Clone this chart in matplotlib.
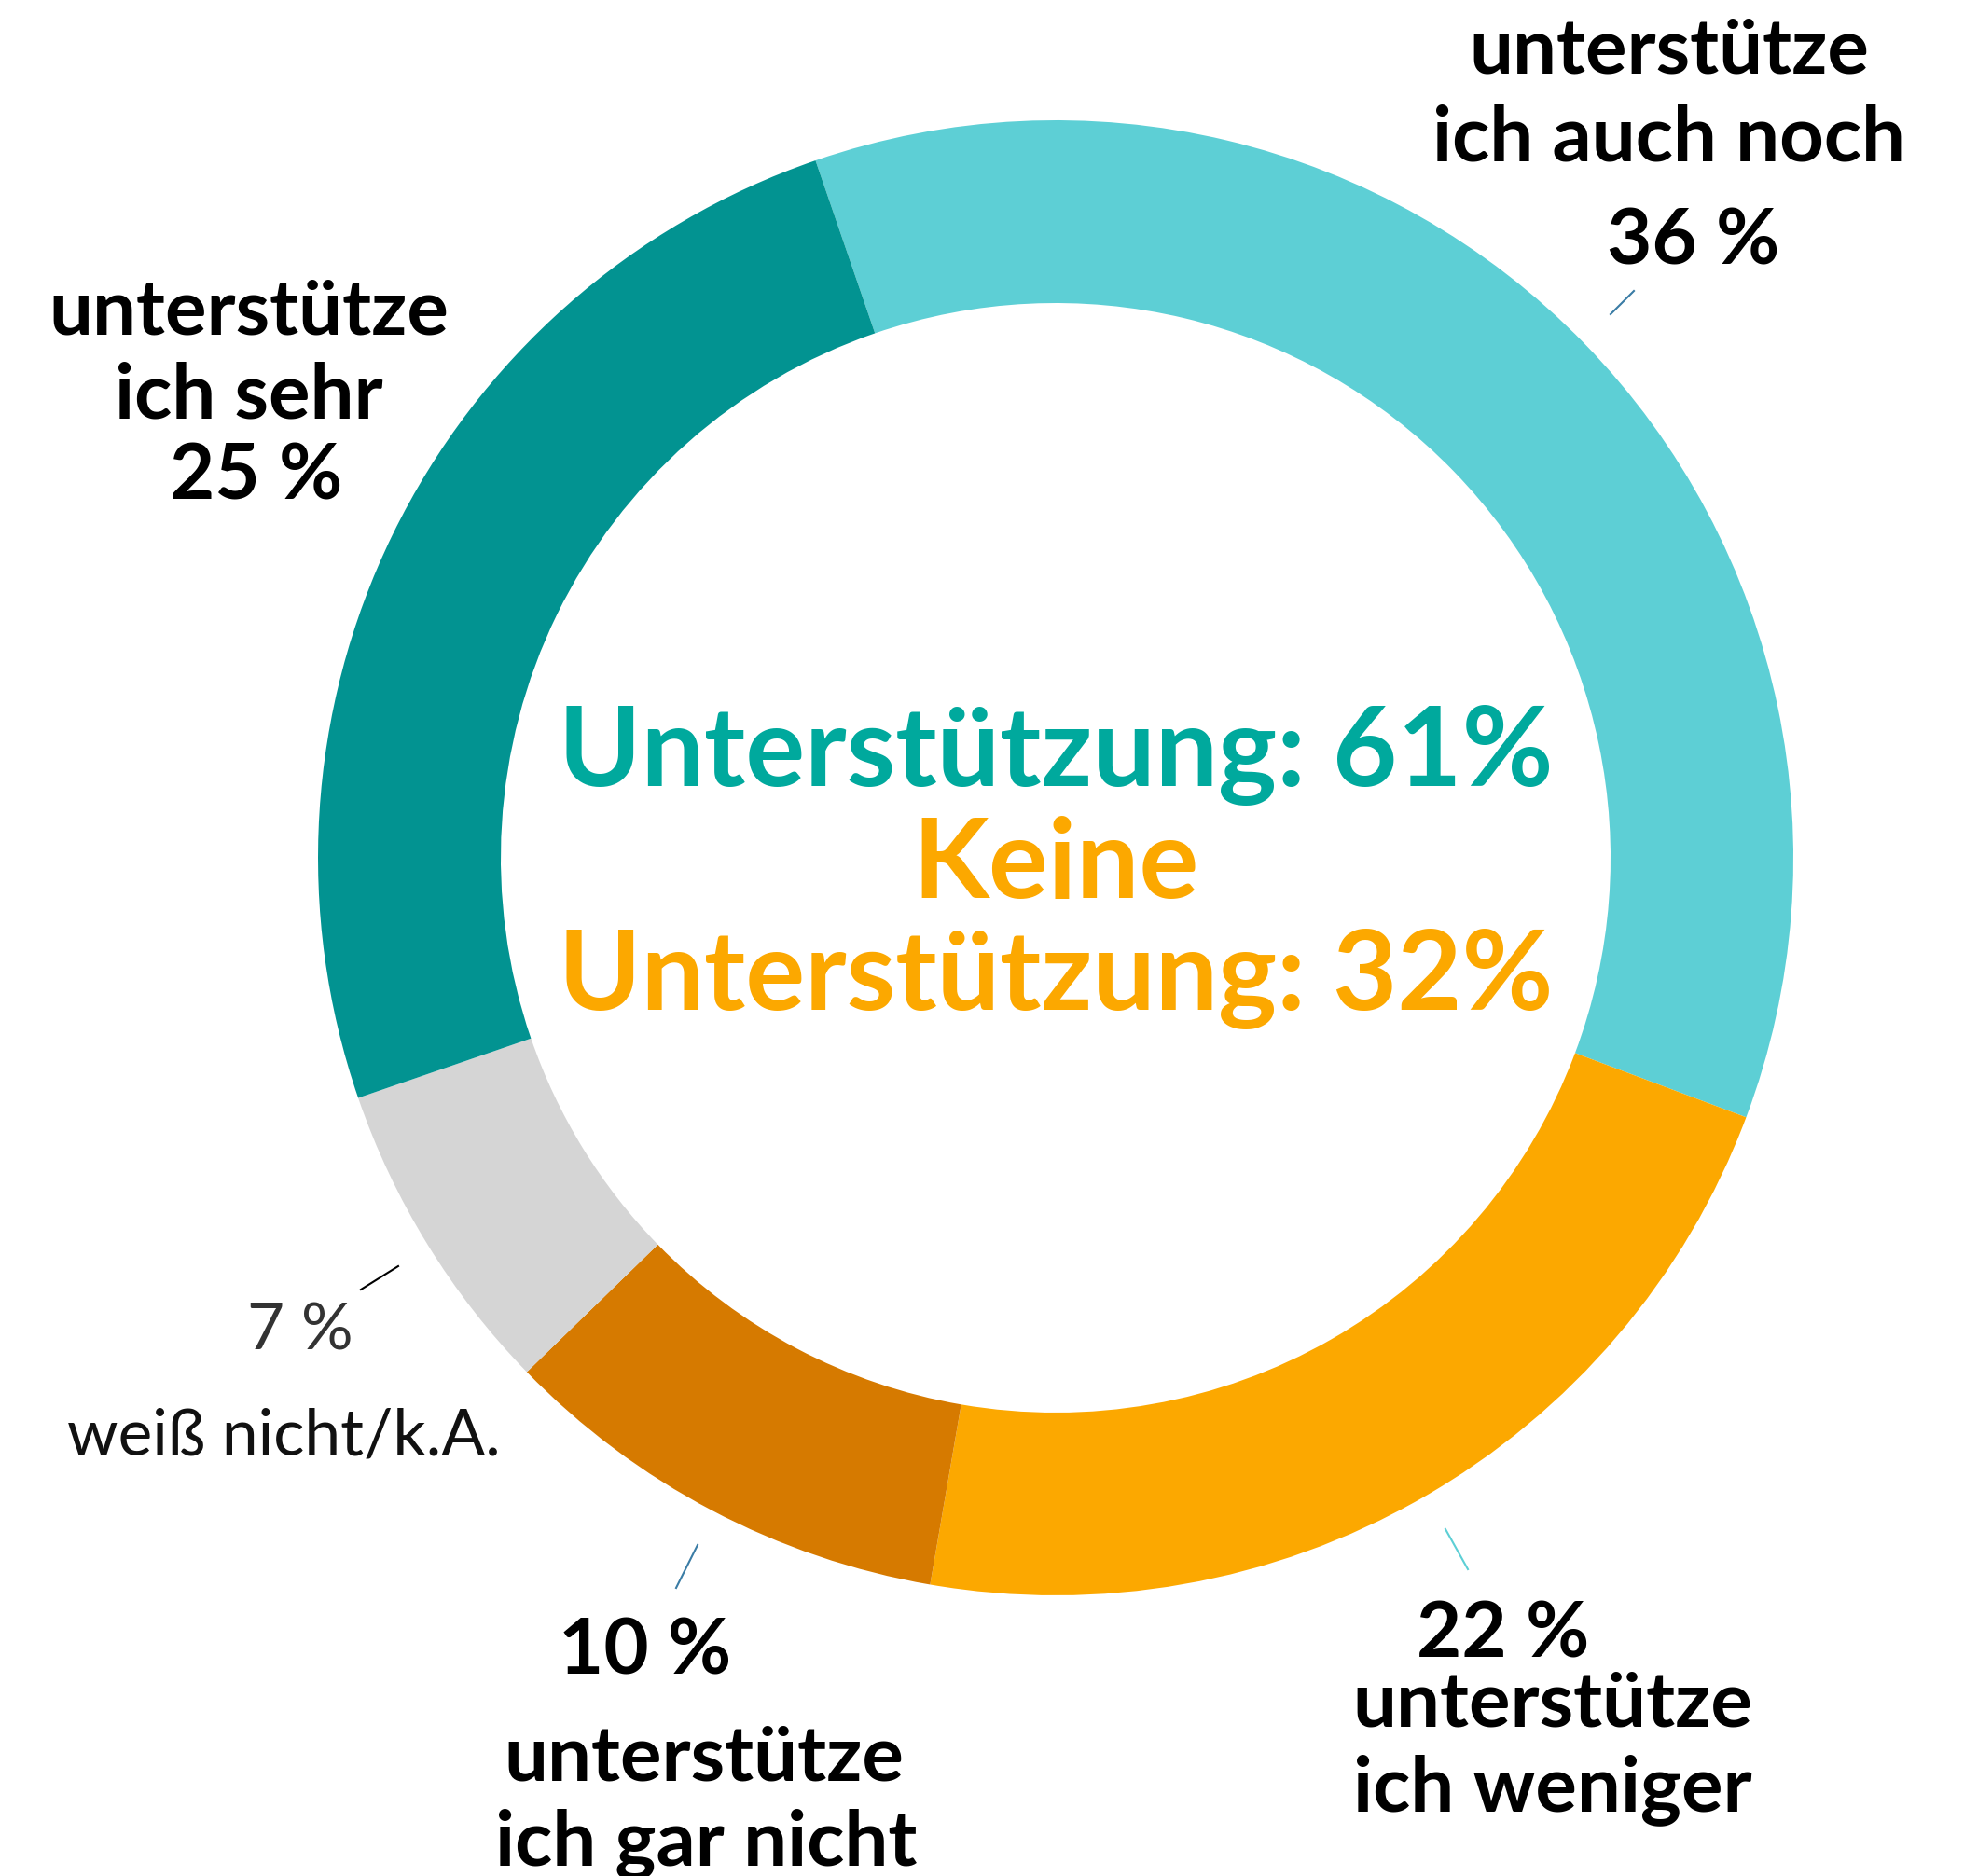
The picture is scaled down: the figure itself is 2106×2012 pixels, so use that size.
import matplotlib
matplotlib.use("Agg")
import matplotlib.pyplot as plt

# ---- data ----
categories = ["unterstütze\nich auch noch", "unterstütze\nich weniger", "unterstütze\nich gar nicht",
              "weiß nicht/k.A.", "unterstütze\nich sehr"]
values = [36, 22, 10, 7, 25]
pct_labels = ["36 %", "22 %", "10 %", "7 %", "25 %"]
colors = ["#5dcfd5", "#fca800", "#d67a00", "#d5d5d5", "#029391"]
center_lines = ["Unterstützung: 61%", "Keine", "Unterstützung: 32%"]
center_colors = ["#00a99d", "#fca800", "#fca800"]

W, H = 2106, 2012
plt.rcParams['font.family'] = ['Lato', 'DejaVu Sans']

fig = plt.figure(figsize=(W / 100, H / 100), dpi=100)
ax = fig.add_axes([0, 0, 1, 1])
ax.set_xlim(0, W)
ax.set_ylim(0, H)
ax.set_aspect('equal')
ax.axis('off')

def Y(y):
    return H - y

cx, cy, r_out, r_in = 1132, 920, 791, 595
ax.pie(values, colors=colors, startangle=109, counterclock=False,
       center=(cx, Y(cy)), radius=r_out, frame=True,
       wedgeprops=dict(width=r_out - r_in, linewidth=0))
ax.set_xlim(0, W)
ax.set_ylim(0, H)
ax.axis('off')

bold = dict(fontweight='bold', color='black', ha='center', va='baseline', fontsize=60)

# 36 %
ax.text(1790, Y(78), "unterstütze", **bold)
ax.text(1790, Y(172), "ich auch noch", **bold)
ax.text(1816, Y(283), pct_labels[0], **bold)
ax.plot([1727, 1752], [Y(337), Y(312)], color="#3a7ca5", lw=1.5)

# 25 %
ax.text(267, Y(358), "unterstütze", **bold)
ax.text(267, Y(448), "ich sehr", **bold)
ax.text(275, Y(535), pct_labels[4], **bold)

# 7 %
ax.text(322, Y(1448), pct_labels[3], color="#333333", ha='center', va='baseline', fontsize=50, fontweight='normal')
ax.text(304, Y(1560), "weiß nicht/k.A.", color="#111111", ha='center', va='baseline', fontsize=50, fontweight='normal')
ax.plot([387, 427], [Y(1383), Y(1358)], color="black", lw=1.5)

# 10 %
ax.text(692, Y(1795), pct_labels[2], **bold)
ax.text(755, Y(1910), "unterstütze", **bold)
ax.text(757, Y(2000), "ich gar nicht", **bold)
ax.plot([725, 748], [Y(1703), Y(1657)], color="#3a7ca5", lw=1.5)

# 22 %
ax.text(1612, Y(1777), pct_labels[1], **bold)
ax.text(1665, Y(1851), "unterstütze", **bold)
ax.text(1665, Y(1942), "ich weniger", **bold)
ax.plot([1550, 1574], [Y(1640), Y(1683)], color="#5dcfd5", lw=1.5)

# center
for txt, col, yb in zip(center_lines, center_colors, [843, 963, 1083]):
    ax.text(cx, Y(yb), txt, color=col, fontweight='bold', fontsize=86, ha='center', va='baseline')

fig.savefig("out.png", dpi=100, facecolor='white')
